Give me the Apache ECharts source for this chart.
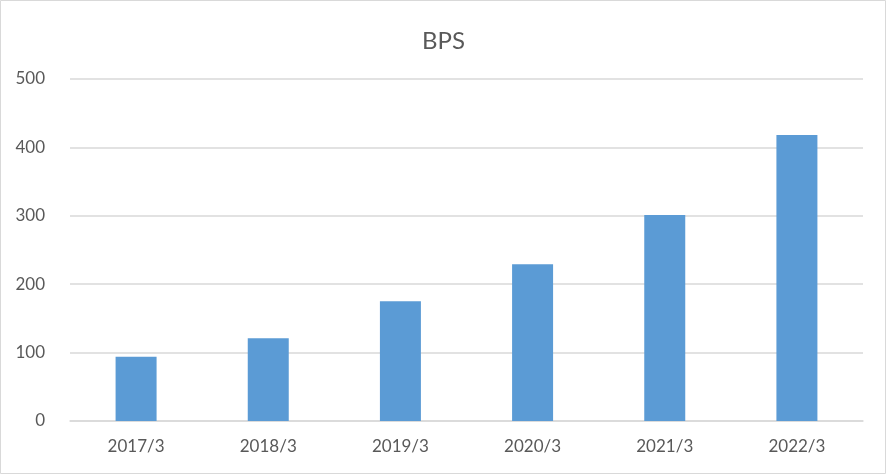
<!DOCTYPE html>
<html><head><meta charset="utf-8">
<script src="https://cdn.jsdelivr.net/npm/echarts@6/dist/echarts.min.js"></script>
<style>html,body{margin:0;padding:0;background:#fff}#c{width:887px;height:475px}</style>
</head><body><div id="c"></div>
<script>
const categories = ['2017/3','2018/3','2019/3','2020/3','2021/3','2022/3'];
const bps = [94, 121, 175, 229, 301, 418];
const yTicks = [0, 100, 200, 300, 400, 500];

const chart = echarts.init(document.getElementById('c'));
chart.setOption({
  animation: false,
  backgroundColor: '#ffffff',
  title: {
    text: 'BPS', left: 'center', top: 24,
    textStyle: { fontFamily: 'Lato', fontSize: 24, fontWeight: 'normal', color: '#595959' }
  },
  graphic: [{
    type: 'rect', shape: { x: 0.5, y: 0.5, width: 885, height: 473 },
    style: { fill: 'none', stroke: '#d9d9d9', lineWidth: 1 }, silent: true
  }],
  grid: { left: 70, right: 24, top: 79, bottom: 54, containLabel: false },
  xAxis: {
    type: 'category', data: categories,
    axisLine: { lineStyle: { color: '#d9d9d9', width: 1.5 } },
    axisTick: { show: false },
    axisLabel: { color: '#595959', fontFamily: 'Lato', fontSize: 17, margin: 17 }
  },
  yAxis: {
    type: 'value', min: yTicks[0], max: yTicks[yTicks.length - 1], interval: 100,
    axisLine: { show: false }, axisTick: { show: false },
    splitLine: { lineStyle: { color: '#d9d9d9', width: 1.5 } },
    axisLabel: { color: '#595959', fontFamily: 'Lato', fontSize: 17, margin: 25 }
  },
  series: [{
    type: 'bar', data: bps, barWidth: 41,
    itemStyle: { color: '#5b9bd5' }
  }]
});
</script></body></html>
